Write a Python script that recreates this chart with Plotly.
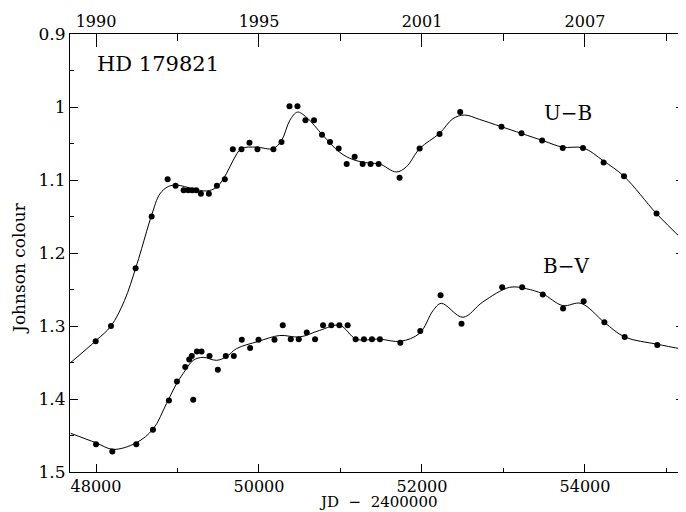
import plotly.graph_objects as go

# ---- data ----
ub_jd = [47996, 48184, 48486, 48683, 48879, 48976, 49075, 49131, 49180, 49229, 49287, 49385,
         49483, 49581, 49679, 49785, 49883, 49981, 50177, 50276, 50374, 50472, 50570, 50675,
         50773, 50871, 50978, 51076, 51174, 51272, 51370, 51468, 51725, 51971, 52216, 52469,
         52975, 53221, 53474, 53727, 53976, 54229, 54479, 54878]
ub_val = [1.321, 1.300, 1.221, 1.150, 1.099, 1.108, 1.114, 1.114, 1.114, 1.114, 1.119, 1.119,
          1.108, 1.099, 1.058, 1.058, 1.049, 1.058, 1.058, 1.048, 0.999, 0.999, 1.018, 1.018,
          1.038, 1.048, 1.057, 1.078, 1.068, 1.078, 1.078, 1.078, 1.097, 1.057, 1.037, 1.007,
          1.027, 1.036, 1.046, 1.056, 1.056, 1.076, 1.095, 1.146]

bv_jd = [48000, 48200, 48494, 48699, 48895, 48993, 49095, 49144, 49176, 49193, 49238, 49295,
         49393, 49495, 49593, 49691, 49789, 49891, 49994, 50190, 50292, 50390, 50488, 50586,
         50688, 50786, 50888, 50986, 51088, 51186, 51288, 51386, 51484, 51734, 51979, 52228,
         52485, 52984, 53229, 53482, 53731, 53984, 54238, 54487, 54887]
bv_val = [1.462, 1.472, 1.462, 1.442, 1.402, 1.376, 1.356, 1.346, 1.341, 1.401, 1.335, 1.335,
          1.341, 1.360, 1.341, 1.341, 1.319, 1.330, 1.319, 1.319, 1.299, 1.318, 1.318, 1.309,
          1.318, 1.299, 1.299, 1.299, 1.299, 1.318, 1.318, 1.318, 1.318, 1.323, 1.307, 1.258,
          1.297, 1.247, 1.247, 1.257, 1.276, 1.266, 1.295, 1.315, 1.326]

# fitted curves
ub_fit_jd = [47690, 48000, 48184, 48350, 48486, 48560, 48683, 48784, 48886, 48989, 49193, 49357,
             49479, 49602, 49683, 49785, 49969, 50173, 50276, 50380, 50472, 50582, 50786, 50990,
             51153, 51358, 51480, 51685, 51808, 51971, 52216, 52380, 52522, 52706, 52975, 53482,
             53727, 53976, 54229, 54479, 54878, 55210]
ub_fit_val = [1.350, 1.320, 1.300, 1.265, 1.221, 1.194, 1.148, 1.119, 1.109, 1.107, 1.112, 1.115,
              1.110, 1.091, 1.073, 1.057, 1.055, 1.057, 1.046, 1.018, 1.007, 1.014, 1.039, 1.062,
              1.072, 1.077, 1.078, 1.089, 1.082, 1.057, 1.036, 1.016, 1.011, 1.017, 1.027, 1.046,
              1.055, 1.056, 1.074, 1.095, 1.146, 1.183]

bv_fit_jd = [47690, 48000, 48212, 48494, 48702, 48866, 48989, 49070, 49193, 49315, 49479, 49602,
             49724, 49994, 50255, 50500, 50745, 50990, 51194, 51480, 51734, 51971, 52135, 52237,
             52502, 52747, 53076, 53281, 53482, 53727, 53952, 54238, 54487, 54887, 55210]
bv_fit_val = [1.447, 1.460, 1.469, 1.460, 1.441, 1.406, 1.379, 1.365, 1.347, 1.343, 1.347, 1.342,
              1.331, 1.321, 1.313, 1.315, 1.306, 1.299, 1.318, 1.318, 1.321, 1.310, 1.279, 1.269,
              1.288, 1.267, 1.247, 1.249, 1.256, 1.272, 1.269, 1.295, 1.315, 1.325, 1.332]

x_tickvals = [48000, 50000, 52000, 54000]
x_ticktext = ["48000", "50000", "52000", "54000"]
x_minorvals = [49000, 51000, 53000, 55000]
year_ticktext = ["1990", "1995", "2001", "2007"]
y_tickvals = [0.9, 1.0, 1.1, 1.2, 1.3, 1.4, 1.5]
y_ticktext = ["0.9", "1", "1.1", "1.2", "1.3", "1.4", "1.5"]
y_minorvals = [0.95, 1.05, 1.15, 1.25, 1.35, 1.45]

FONT = "DejaVu Serif"
XR = [47681, 55215]
YR = [1.5, 0.9]

fig = go.Figure()
line_style = dict(color="black", width=1)
fig.add_trace(go.Scatter(x=ub_fit_jd, y=ub_fit_val, mode="lines",
                         line=dict(shape="spline", smoothing=1.0, **line_style), hoverinfo="skip"))
fig.add_trace(go.Scatter(x=bv_fit_jd, y=bv_fit_val, mode="lines",
                         line=dict(shape="spline", smoothing=1.0, **line_style), hoverinfo="skip"))
fig.add_trace(go.Scatter(x=ub_jd, y=ub_val, mode="markers", marker=dict(color="black", size=6)))
fig.add_trace(go.Scatter(x=bv_jd, y=bv_val, mode="markers", marker=dict(color="black", size=6)))
# invisible trace to anchor the top (year) axis
fig.add_trace(go.Scatter(x=XR, y=[1.0, 1.0], xaxis="x2", mode="lines", line=dict(width=0),
                         opacity=0, hoverinfo="skip"))

# the page body adds an 8px margin, so the figure is 8px smaller on each axis
fig.update_layout(
    width=678, height=504,
    margin=dict(l=62, r=2, t=26, b=40, autoexpand=False),
    paper_bgcolor="white", plot_bgcolor="white",
    showlegend=False,
    font=dict(family=FONT, size=17, color="black"),
    xaxis=dict(
        range=XR, showgrid=False, zeroline=False, automargin=False,
        showline=True, linecolor="black", linewidth=1, mirror=False,
        tickmode="array", tickvals=x_tickvals, ticktext=x_ticktext,
        ticks="inside", ticklen=8, tickcolor="black", tickwidth=1,
        minor=dict(tickmode="array", tickvals=x_minorvals, ticks="inside", ticklen=4, tickcolor="black"),
        tickfont=dict(size=16),
    ),
    xaxis2=dict(
        range=XR, overlaying="x", side="top", showgrid=False, zeroline=False, automargin=False,
        showline=True, linecolor="black", linewidth=1,
        tickmode="array", tickvals=x_tickvals, ticktext=year_ticktext,
        ticks="inside", ticklen=13, tickcolor="black", tickwidth=1,
        minor=dict(tickmode="array", tickvals=x_minorvals, ticks="inside", ticklen=7, tickcolor="black"),
        tickfont=dict(size=16),
    ),
    yaxis=dict(
        range=YR, showgrid=False, zeroline=False, automargin=False,
        showline=True, linecolor="black", linewidth=1, mirror="ticks",
        tickmode="array", tickvals=y_tickvals, ticktext=y_ticktext,
        ticks="inside", ticklen=8, tickcolor="black", tickwidth=1,
        minor=dict(tickmode="array", tickvals=y_minorvals, ticks="inside", ticklen=4, tickcolor="black"),
        tickfont=dict(size=17),
    ),
    annotations=[
        dict(x=0.5016, y=-0.0913, xref="paper", yref="paper", text="JD  \u2212  2400000",
             showarrow=False, xanchor="center", yanchor="bottom", borderpad=0,
             font=dict(size=15, family=FONT)),
        dict(x=-0.083, y=0.466, xref="paper", yref="paper", text="Johnson colour", textangle=-90,
             showarrow=False, xanchor="center", yanchor="middle", font=dict(size=17, family=FONT)),
        dict(x=47988, y=0.941, xref="x", yref="y", text="HD 179821", showarrow=False,
             xanchor="left", yanchor="middle", font=dict(size=21, family=FONT)),
        dict(x=53791, y=1.008, xref="x", yref="y", text="U\u2212B", showarrow=False,
             xanchor="center", yanchor="middle", font=dict(size=20, family=FONT)),
        dict(x=53767, y=1.218, xref="x", yref="y", text="B\u2212V", showarrow=False,
             xanchor="center", yanchor="middle", font=dict(size=20, family=FONT)),
    ],
)

fig.write_html("out.html")
